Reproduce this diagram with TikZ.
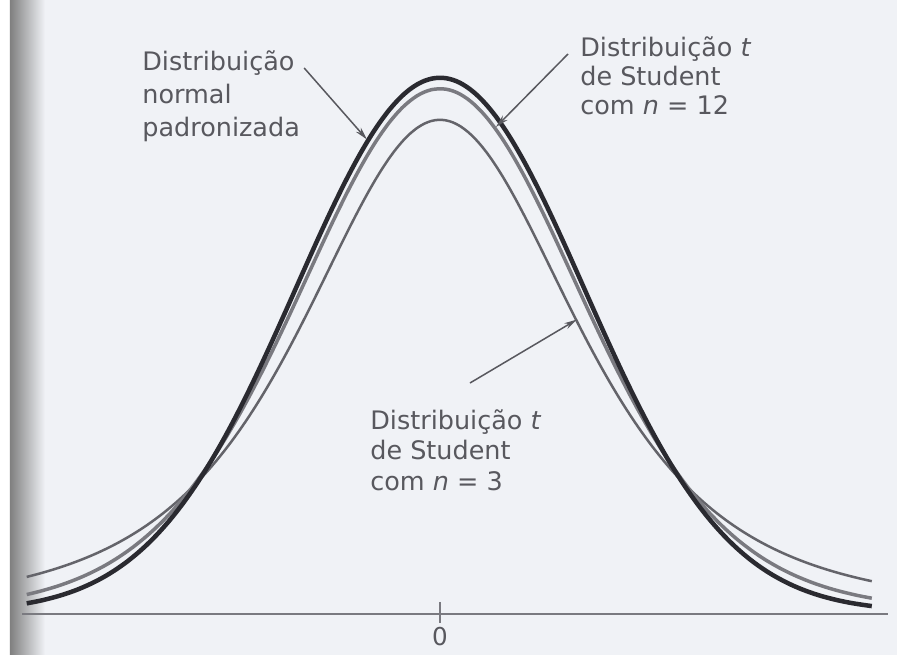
\documentclass[tikz,border=0pt]{standalone}
\usepackage{fontspec}
\setmainfont{DejaVu Sans}
\usetikzlibrary{arrows.meta}
\definecolor{paper}{RGB}{240,242,246}
\definecolor{ink}{RGB}{88,88,94}
\definecolor{normalcol}{RGB}{42,42,48}
\definecolor{tdozecol}{RGB}{122,122,128}
\definecolor{ttrescol}{RGB}{100,100,106}

\begin{document}
\begin{tikzpicture}[>={Stealth[length=0.26cm,width=0.13cm]},
    lbl/.style={align=left, anchor=north west, inner sep=0pt, text=ink,
        font=\fontsize{14.5}{18.8}\selectfont},
    pointer/.style={->, ink, line width=0.03cm}]
\useasboundingbox (-8.8,-0.86) rectangle (9.14,12.24);
\fill[paper] (-8.8,-0.86) rectangle (9.14,12.24);
\fill[white] (-8.8,-0.86) rectangle (-8.6,12.24);
\shade[left color=black!50, right color=paper] (-8.6,-0.86) rectangle (-7.9,12.24);

% eixo
\draw[tdozecol, line width=0.04cm] (-8.36,-0.04) -- (8.96,-0.04);
\draw[tdozecol, line width=0.04cm] (0,0.2) -- (0,-0.22);
\node[text=ink, anchor=north, inner sep=0pt, font=\fontsize{14}{16}\selectfont] (zero) at (0,-0.3) {0};

% curvas
\draw[ttrescol, line width=0.05cm] plot[domain=-2.87:3, samples=120, smooth]
    ({2.88*\x},{9.844/((1+\x*\x/3)^2)});
\draw[tdozecol, line width=0.07cm] plot[domain=-2.87:3, samples=120, smooth]
    ({2.88*\x},{10.463*exp(-6.5*ln(1+\x*\x/12))});
\draw[normalcol, line width=0.09cm] plot[domain=-2.87:3, samples=120, smooth]
    ({2.88*\x},{10.683*exp(-0.5*\x*\x)});

% legendas
\node[lbl] (normlbl) at (-5.96,11.24) {Distribuição\\normal\\padronizada};
\node[lbl, font=\fontsize{14.5}{16.5}\selectfont] (tdozelbl) at (2.8,11.52)
    {Distribuição {\itshape t}\\de Student\\com {\itshape n} = 12};
\node[lbl, font=\fontsize{14.5}{17.4}\selectfont] (ttreslbl) at (-1.4,4.06)
    {Distribuição {\itshape t}\\de Student\\com {\itshape n} = 3};

\coordinate (normtip) at (-1.46,9.45);
\coordinate (tdozetip) at (1.12,9.70);
\coordinate (ttrestip) at (2.74,5.85);
\draw[pointer] ([shift={(0.08,-0.36)}]normlbl.north east) -- (normtip);
\draw[pointer] ([shift={(-0.24,-0.36)}]tdozelbl.north west) -- (tdozetip);
\draw[pointer] ([shift={(2.0,0.52)}]ttreslbl.north west) -- (ttrestip);
\end{tikzpicture}
\end{document}
